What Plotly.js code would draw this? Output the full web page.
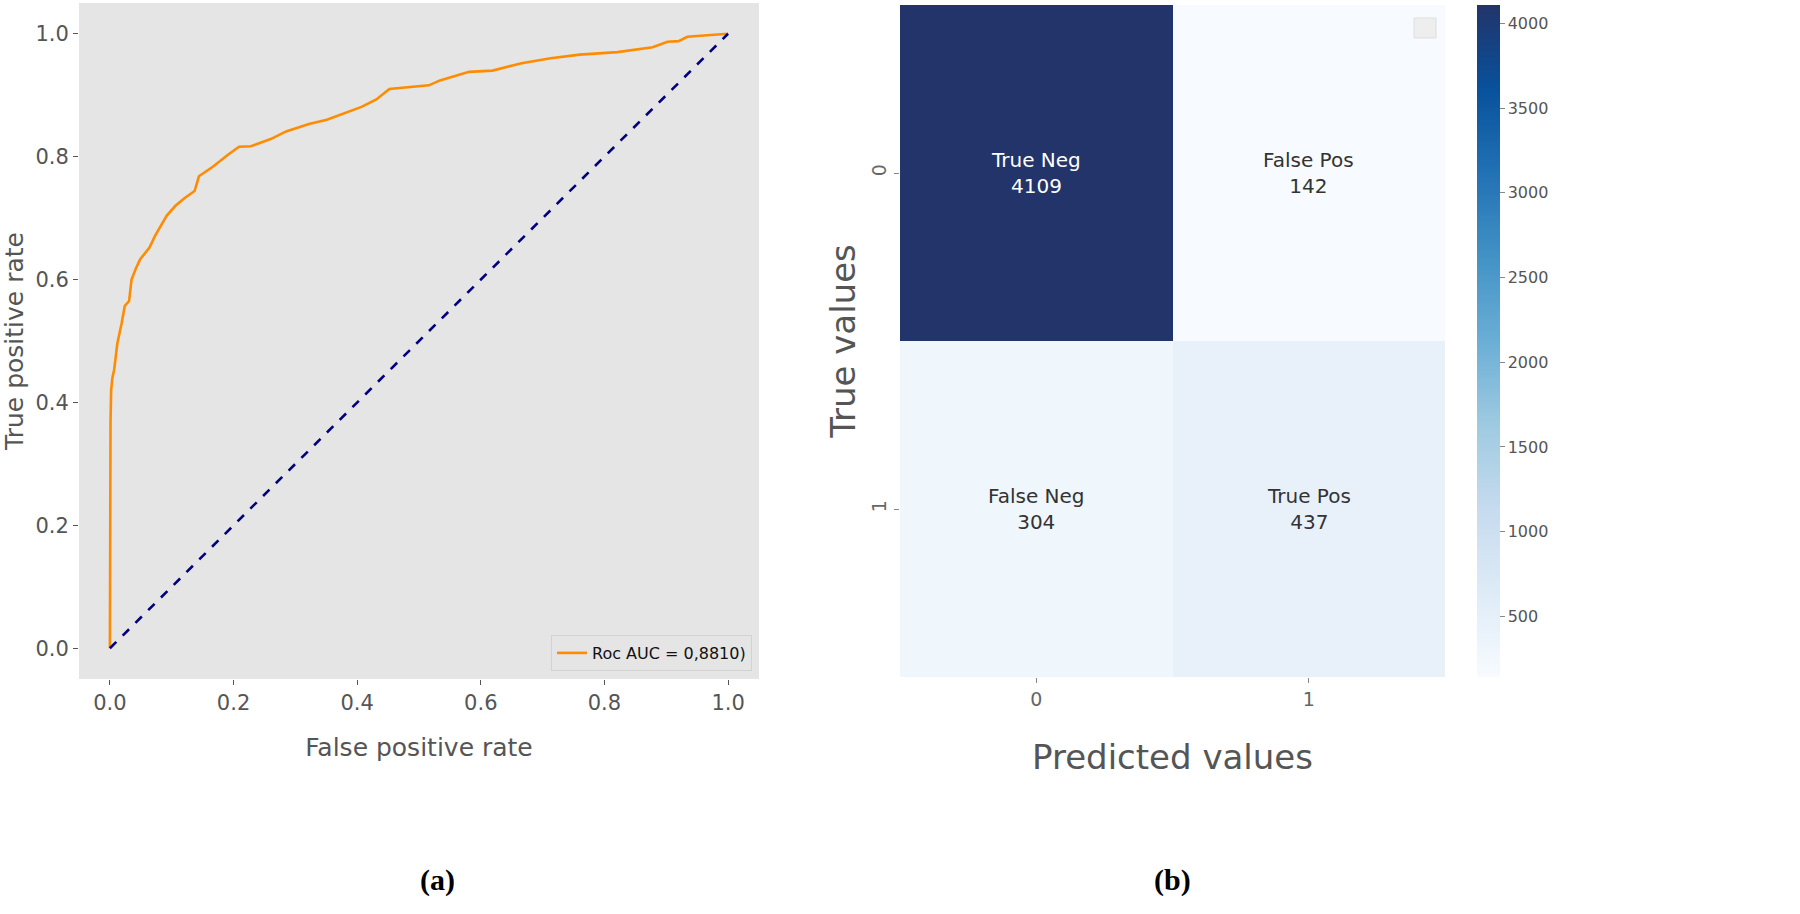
<!DOCTYPE html>
<html>
<head>
<meta charset="utf-8">
<script src="https://cdn.plot.ly/plotly-3.0.1.min.js"></script>
<style>
html,body{margin:0;padding:0;background:#fff;}
#chart{width:1800px;height:914px;}
</style>
</head>
<body>
<div id="chart"></div>
<script>
// ROC curve
const rocFpr = [0, 0, 0.001, 0.002, 0.004, 0.007, 0.012, 0.019, 0.024, 0.031, 0.035, 0.042, 0.049, 0.064, 0.073, 0.092, 0.106, 0.120, 0.137, 0.144, 0.167, 0.191, 0.209, 0.228, 0.261, 0.285, 0.322, 0.351, 0.379, 0.407, 0.431, 0.452, 0.516, 0.534, 0.581, 0.619, 0.666, 0.713, 0.760, 0.821, 0.878, 0.902, 0.920, 0.934, 0.972, 1.0];
const rocTpr = [0, 0.30, 0.37, 0.42, 0.44, 0.454, 0.496, 0.529, 0.557, 0.565, 0.600, 0.618, 0.633, 0.652, 0.671, 0.704, 0.720, 0.732, 0.744, 0.768, 0.784, 0.803, 0.816, 0.817, 0.829, 0.841, 0.853, 0.860, 0.870, 0.881, 0.893, 0.910, 0.916, 0.924, 0.938, 0.940, 0.952, 0.960, 0.966, 0.970, 0.978, 0.987, 0.988, 0.995, 0.998, 1.0];
const chanceX = [0, 1];
const chanceY = [0, 1];
const rocLabel = 'Roc AUC = 0,8810)';
const rocTicks = [0, 0.2, 0.4, 0.6, 0.8, 1.0];
const rocTickText = ['0.0', '0.2', '0.4', '0.6', '0.8', '1.0'];

// Confusion matrix
const predCats = ['0', '1'];
const trueCats = ['0', '1'];
const cmValues = [[4109, 142], [304, 437]];
const cmNames = [['True Neg', 'False Pos'], ['False Neg', 'True Pos']];
const cbTicks = [500, 1000, 1500, 2000, 2500, 3000, 3500, 4000];

const W = 1800, H = 914;
const px = v => v / W;
const py = v => 1 - v / H;

const traces = [
  {
    x: rocFpr, y: rocTpr, type: 'scatter', mode: 'lines',
    name: rocLabel, line: {color: '#ff8c00', width: 2.6},
    xaxis: 'x', yaxis: 'y'
  },
  {
    x: chanceX, y: chanceY, type: 'scatter', mode: 'lines',
    showlegend: false, line: {color: '#000080', width: 2.6, dash: 'dash'},
    xaxis: 'x', yaxis: 'y'
  },
  {
    z: cmValues, x: predCats, y: trueCats, type: 'heatmap',
    xaxis: 'x2', yaxis: 'y2', zmin: 142, zmax: 4109, showlegend: false,
    colorscale: [
      [0, '#f7fbff'], [0.125, '#deebf7'], [0.25, '#c6dbef'], [0.375, '#9ecae1'],
      [0.5, '#6baed6'], [0.625, '#4292c6'], [0.75, '#2171b5'], [0.875, '#08519c'],
      [1, '#22346a']
    ],
    xgap: 0, ygap: 0, hoverinfo: 'z',
    colorbar: {
      x: px(1477), xanchor: 'left', xpad: 0, ypad: 0, thickness: 23, thicknessmode: 'pixels',
      y: py(677), yanchor: 'bottom', len: (677 - 5) / H, lenmode: 'fraction',
      outlinewidth: 0, tickvals: cbTicks, ticks: 'outside', ticklen: 5,
      tickcolor: '#888', tickfont: {family: 'DejaVu Sans', size: 16, color: '#555'}
    }
  }
];

const annotations = [];
for (let r = 0; r < trueCats.length; r++) {
  for (let c = 0; c < predCats.length; c++) {
    const v = cmValues[r][c];
    annotations.push({
      xref: 'x2', yref: 'y2', x: predCats[c], y: trueCats[r],
      text: cmNames[r][c] + '<br>' + v, showarrow: false,
      font: {family: 'DejaVu Sans', size: 20, color: v > 2000 ? '#ffffff' : '#333333'}
    });
  }
}
annotations.push({xref: 'paper', yref: 'paper', x: px(418), y: py(880), yanchor: 'middle', text: '<b>(a)</b>',
  showarrow: false, font: {family: 'Liberation Serif', size: 30, color: '#000'}});
annotations.push({xref: 'paper', yref: 'paper', x: px(1172), y: py(880), yanchor: 'middle', text: '<b>(b)</b>',
  showarrow: false, font: {family: 'Liberation Serif', size: 30, color: '#000'}});

const layout = {
  width: W, height: H,
  margin: {l: 0, r: 0, t: 0, b: 0},
  paper_bgcolor: '#ffffff',
  font: {family: 'DejaVu Sans', color: '#555'},
  showlegend: true,
  legend: {
    x: px(752), xanchor: 'right', y: py(671), yanchor: 'bottom',
    bgcolor: '#e5e5e5', bordercolor: '#d2d2d2', borderwidth: 1,
    font: {family: 'DejaVu Sans', size: 16, color: '#111'}
  },
  xaxis: {
    domain: [px(79), px(759)], range: [-0.05, 1.05], anchor: 'y',
    tickvals: rocTicks, ticktext: rocTickText, ticks: 'outside', ticklen: 5, tickcolor: '#555',
    tickfont: {size: 21, color: '#555'}, showgrid: false, zeroline: false, showline: false,
    title: {text: 'False positive rate', font: {size: 25, color: '#555'}, standoff: 24}
  },
  yaxis: {
    domain: [py(679), py(3)], range: [-0.05, 1.05], anchor: 'x',
    tickvals: rocTicks, ticktext: rocTickText, ticks: 'outside', ticklen: 5, tickcolor: '#555',
    tickfont: {size: 21, color: '#555'}, showgrid: false, zeroline: false, showline: false,
    title: {text: 'True positive rate', font: {size: 25, color: '#555'}, standoff: 10}
  },
  xaxis2: {
    domain: [px(900), px(1445)], anchor: 'y2', type: 'category',
    ticks: 'outside', ticklen: 5, tickcolor: '#888', showgrid: false, zeroline: false,
    tickfont: {size: 19, color: '#666'},
    title: {text: 'Predicted values', font: {size: 34, color: '#555'}, standoff: 36}
  },
  yaxis2: {
    domain: [py(677), py(5)], anchor: 'x2', type: 'category', autorange: 'reversed',
    ticks: 'outside', ticklen: 5, tickcolor: '#888', showgrid: false, zeroline: false,
    tickangle: -90, tickfont: {size: 19, color: '#666'},
    title: {text: 'True values', font: {size: 34, color: '#555'}, standoff: 2}
  },
  plot_bgcolor: '#e5e5e5',
  shapes: [
    {type: 'rect', xref: 'paper', yref: 'paper', x0: px(1414), x1: px(1436), y0: py(38), y1: py(18),
     line: {color: '#dddddd', width: 1}, fillcolor: '#eeeeee'}
  ],
  annotations: annotations
};

Plotly.newPlot('chart', traces, layout, {displayModeBar: false, staticPlot: true});
</script>
</body>
</html>
